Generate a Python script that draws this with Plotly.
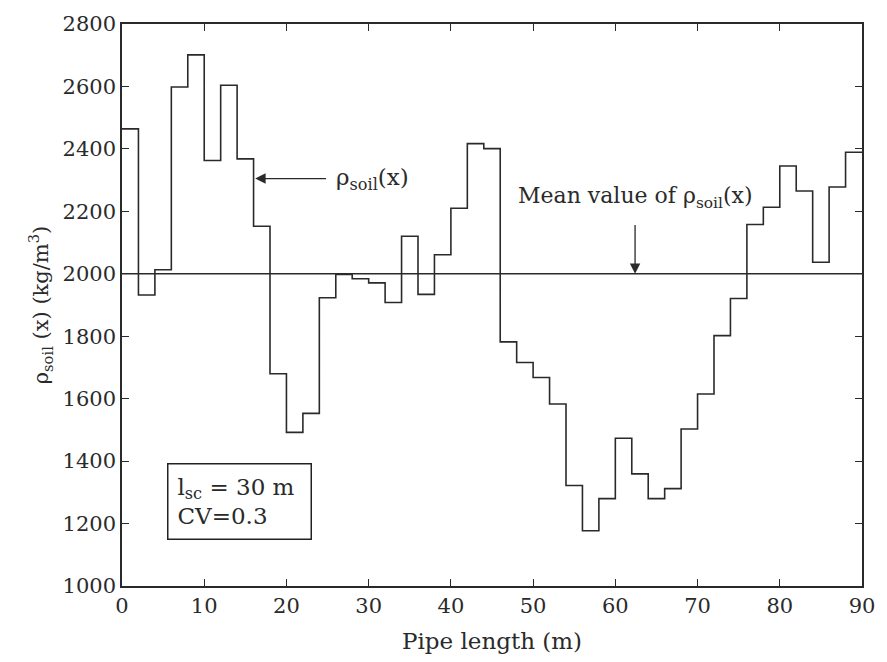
import plotly.graph_objects as go

# Step edges along the pipe (m) and density per 2 m segment (kg/m^3)
x_edges = list(range(0, 92, 2))
rho_values = [2464, 1932, 2013, 2598, 2701, 2363, 2604, 2368, 2152, 1680,
              1492, 1553, 1923, 1998, 1984, 1971, 1908, 2120, 1934, 2061,
              2210, 2417, 2401, 1782, 1716, 1668, 1583, 1322, 1177, 1280,
              1473, 1359, 1280, 1312, 1503, 1615, 1802, 1921, 2158, 2213,
              2345, 2265, 2037, 2278, 2389]
mean_value = 2000
x_ticks = [0, 10, 20, 30, 40, 50, 60, 70, 80, 90]
y_ticks = [1000, 1200, 1400, 1600, 1800, 2000, 2200, 2400, 2600, 2800]

font_family = "DejaVu Serif, Liberation Serif, serif"
line_col = "#2a2a2a"
txt_col = "#2a2a2a"

fig = go.Figure()
fig.add_trace(go.Scatter(
    x=x_edges, y=rho_values + [rho_values[-1]],
    mode="lines", line=dict(shape="hv", color=line_col, width=1.6),
    showlegend=False, hoverinfo="skip"))
fig.add_trace(go.Scatter(
    x=[x_edges[0], x_edges[-1]], y=[mean_value, mean_value],
    mode="lines", line=dict(color=line_col, width=1.4),
    showlegend=False, hoverinfo="skip"))

annots = [
    dict(x=16.2, y=2305, ax=25.0, ay=2305, axref="x", ayref="y",
         xref="x", yref="y", text="", showarrow=True, arrowhead=2,
         arrowsize=1.6, arrowwidth=1.3, arrowcolor=line_col),
    dict(x=25.8, y=2305, xref="x", yref="y", text="ρ<sub>soil</sub>(x)",
         showarrow=False, xanchor="left", yanchor="middle",
         font=dict(size=23, color=txt_col)),
    dict(x=62.4, y=2000, ax=62.4, ay=2161, axref="x", ayref="y",
         xref="x", yref="y", text="", showarrow=True, arrowhead=2,
         arrowsize=1.6, arrowwidth=1.3, arrowcolor=line_col),
    dict(x=62.4, y=2243, xref="x", yref="y",
         text="Mean value of ρ<sub>soil</sub>(x)",
         showarrow=False, xanchor="center", yanchor="middle",
         font=dict(size=22, color=txt_col)),
    dict(x=5.5, y=1270, xref="x", yref="y",
         text="l<sub>sc</sub> = 30 m&nbsp;<br>CV=0.3",
         showarrow=False, xanchor="left", yanchor="middle", align="left",
         bordercolor="#222", borderwidth=1.5, borderpad=9,
         font=dict(size=23, color=txt_col)),
]

axis_common = dict(
    showline=True, linecolor=line_col, linewidth=1.5, mirror="ticks",
    ticks="inside", ticklen=7, tickwidth=1.2, tickcolor=line_col,
    showgrid=False, zeroline=False,
    tickfont=dict(family=font_family, size=21, color=txt_col),
)

fig.update_layout(
    width=887, height=662,
    margin=dict(l=122, r=18, t=16, b=75),
    paper_bgcolor="white", plot_bgcolor="white",
    font=dict(family=font_family, color=txt_col),
    annotations=annots,
    xaxis=dict(range=[0, 90], tickvals=x_ticks,
               title=dict(text="Pipe length (m)", font=dict(size=23), standoff=16),
               **axis_common),
    yaxis=dict(range=[1000, 2800], tickvals=y_ticks,
               title=dict(text="ρ<sub>soil</sub> (x) (kg/m<sup>3</sup>)",
                          font=dict(size=21), standoff=8),
               **axis_common),
)

fig.write_html("out.html")
